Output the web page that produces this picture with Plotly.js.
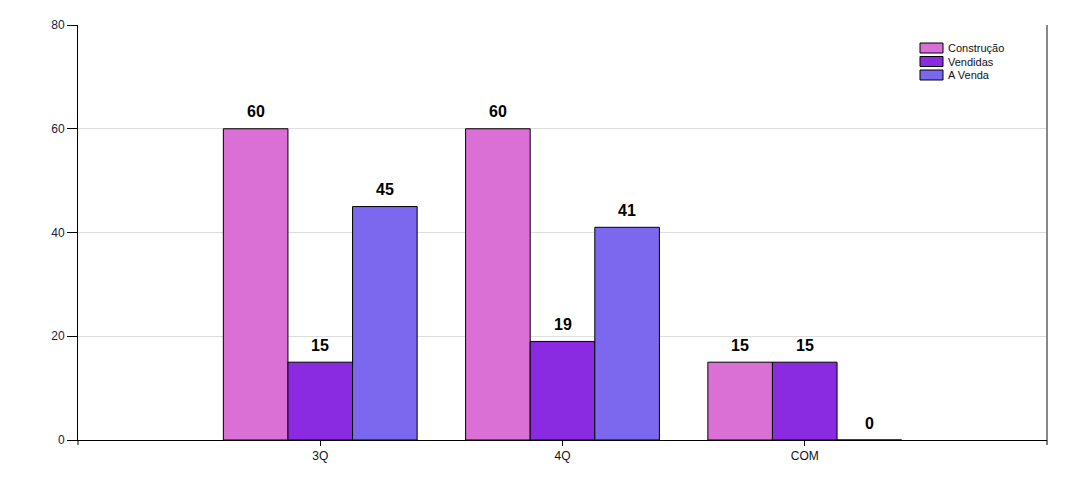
<!DOCTYPE html>
<html>
<head>
<meta charset="utf-8">
<script src="https://cdn.plot.ly/plotly-3.0.1.min.js"></script>
<style>
html,body{margin:0;padding:0;background:#fff;}
#chart{width:1085px;height:489px;}
</style>
</head>
<body>
<div id="chart"></div>
<script>
const categories = ['3Q', '4Q', 'COM'];
const seriesNames = ['Construção', 'Vendidas', 'A Venda'];
const construcao = [60, 60, 15];
const vendidas = [15, 19, 15];
const aVenda = [45, 41, 0];
const yTicks = [0, 20, 40, 60, 80];

const seriesValues = [construcao, vendidas, aVenda];
const colors = ['#DA70D6', '#8A2BE2', '#7B68EE'];

const traces = seriesValues.map((vals, i) => ({
  type: 'bar',
  name: seriesNames[i],
  x: categories,
  y: vals,
  marker: {color: colors[i], line: {color: '#000', width: 1}},
  hoverinfo: 'none',
  showlegend: false
}));

// geometry of plot area (pixels)
const L = 78, R = 38, T = 25, B = 49, W = 1085, H = 489;
const plotW = W - L - R, plotH = H - T - B;
const px2x = p => (p - L) / plotW;
const px2y = p => (H - B - p) / plotH;

// value labels above each bar
const slotPx = plotW / 4;
const barPx = slotPx * 0.8 / 3;
const annotations = [];
seriesValues.forEach((vals, i) => {
  vals.forEach((v, j) => {
    annotations.push({
      x: categories[j], y: v, xref: 'x', yref: 'y',
      text: '<b>' + v + '</b>', showarrow: false,
      xshift: (i - 1) * barPx, yshift: 17, yanchor: 'middle',
      font: {family: 'Liberation Sans, Arial, sans-serif', size: 16, color: '#000'}
    });
  });
});

// custom legend
const shapes = [
  {type: 'line', xref: 'paper', yref: 'paper', x0: 1, x1: 1, y0: 0, y1: 1,
   line: {color: '#888', width: 2}},
  {type: 'line', xref: 'paper', yref: 'paper', x0: 0, x1: 0,
   ysizemode: 'pixel', yanchor: 0, y0: 0, y1: -5, line: {color: '#000', width: 1}},
  {type: 'line', xref: 'paper', yref: 'paper', x0: 1, x1: 1,
   ysizemode: 'pixel', yanchor: 0, y0: 0, y1: -5, line: {color: '#000', width: 1}}
];
seriesNames.forEach((name, i) => {
  const top = 43 + i * 13.5;
  shapes.push({
    type: 'rect', xref: 'paper', yref: 'paper',
    x0: px2x(920), x1: px2x(943), y0: px2y(top), y1: px2y(top + 10),
    fillcolor: colors[i], line: {color: '#000', width: 1}
  });
  annotations.push({
    xref: 'paper', yref: 'paper', x: px2x(946), y: px2y(top + 5),
    xanchor: 'left', yanchor: 'middle', showarrow: false, text: name,
    font: {family: 'Liberation Sans, Arial, sans-serif', size: 11, color: '#111'}
  });
});

const layout = {
  width: W, height: H,
  margin: {l: L, r: R, t: T, b: B, pad: 0},
  paper_bgcolor: '#fff', plot_bgcolor: '#fff',
  font: {family: 'Liberation Sans, Arial, sans-serif', size: 12, color: '#111'},
  barmode: 'group', bargap: 0.2, bargroupgap: 0,
  showlegend: false,
  xaxis: {
    type: 'category', range: [-1, 3], fixedrange: true,
    showgrid: false, zeroline: false,
    showline: true, linecolor: '#000', linewidth: 1,
    ticks: 'outside', ticklen: 5, tickcolor: '#000', tickwidth: 1,
    tickfont: {size: 12, color: '#111'}
  },
  yaxis: {
    range: [0, 80], fixedrange: true,
    tickvals: yTicks,
    showgrid: true, gridcolor: '#dddddd', gridwidth: 1,
    zeroline: false,
    showline: true, linecolor: '#000', linewidth: 1,
    ticks: 'outside', ticklen: 10, tickcolor: '#000', tickwidth: 1,
    tickfont: {size: 12, color: '#1a1a40'}
  },
  shapes: shapes,
  annotations: annotations
};

Plotly.newPlot('chart', traces, layout, {displayModeBar: false, staticPlot: true});
</script>
</body>
</html>
